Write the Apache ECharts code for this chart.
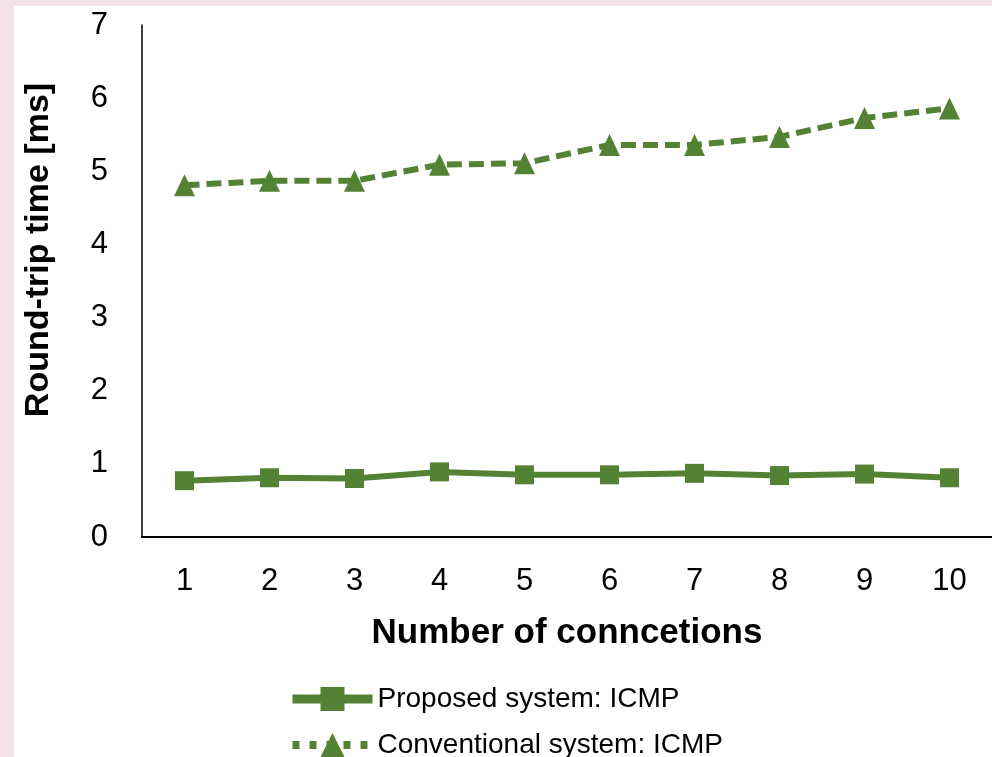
<!DOCTYPE html>
<html>
<head>
<meta charset="utf-8">
<script src="https://cdn.jsdelivr.net/npm/echarts@6/dist/echarts.min.js"></script>
<style>
  html, body { margin: 0; padding: 0; width: 992px; height: 757px; background: #f4e1e6; overflow: hidden; }
  #chart { position: absolute; left: 14px; top: 6px; width: 978px; height: 751px; background: #ffffff; }
</style>
</head>
<body>
<div id="chart"></div>
<script>
const categories = ['1', '2', '3', '4', '5', '6', '7', '8', '9', '10'];
const proposedICMP = [0.77, 0.81, 0.80, 0.89, 0.85, 0.85, 0.87, 0.84, 0.86, 0.81];
const conventionalICMP = [4.81, 4.87, 4.87, 5.09, 5.11, 5.36, 5.36, 5.47, 5.73, 5.86];
const seriesNames = ['Proposed system: ICMP', 'Conventional system: ICMP'];
const xTitle = 'Number of conncetions';
const yTitle = 'Round-trip time [ms]';

const green = '#548235';
const font = '"Liberation Sans", Arial, Helvetica, sans-serif';

const chart = echarts.init(document.getElementById('chart'), null, { renderer: 'canvas' });
chart.setOption({
  backgroundColor: '#ffffff',
  animation: false,
  grid: { left: 125, top: 19, bottom: 220, width: 861, containLabel: false },
  xAxis: {
    type: 'category',
    data: categories,
    boundaryGap: true,
    axisLine: { show: true, lineStyle: { color: '#000', width: 2 } },
    axisTick: { show: false },
    axisLabel: { color: '#000', fontSize: 31, fontFamily: font, margin: 29 },
    name: xTitle,
    nameLocation: 'middle',
    nameGap: 79,
    nameTextStyle: { color: '#000', fontSize: 35, fontWeight: 'bold', fontFamily: font }
  },
  yAxis: {
    type: 'value',
    min: 0, max: 7, interval: 1,
    axisLine: { show: true, lineStyle: { color: '#000', width: 1.5 } },
    axisTick: { show: false },
    splitLine: { show: false },
    axisLabel: { color: '#000', fontSize: 31, fontFamily: font, margin: 34 },
    name: yTitle,
    nameLocation: 'middle',
    nameGap: 86,
    nameTextStyle: { color: '#000', fontSize: 34, fontWeight: 'bold', fontFamily: font, padding: [0, 0, 0, 62] }
  },
  legend: {
    orient: 'vertical',
    left: 269,
    top: 674,
    height: 120,
    itemWidth: 80,
    itemHeight: 30,
    itemGap: 18,
    textStyle: { color: '#000', fontSize: 28, fontFamily: font },
    data: [
      { name: seriesNames[0], lineStyle: { width: 9, type: 'solid' } },
      { name: seriesNames[1], lineStyle: { width: 8, type: [7, 10] } }
    ]
  },
  series: [
    {
      name: seriesNames[0],
      type: 'line',
      data: proposedICMP,
      symbol: 'rect',
      symbolSize: 19,
      lineStyle: { color: green, width: 6 },
      itemStyle: { color: green }
    },
    {
      name: seriesNames[1],
      type: 'line',
      data: conventionalICMP,
      symbol: 'triangle',
      symbolSize: [21, 22],
      lineStyle: { color: green, width: 6, type: [15, 7] },
      itemStyle: { color: green }
    }
  ]
});
</script>
</body>
</html>
